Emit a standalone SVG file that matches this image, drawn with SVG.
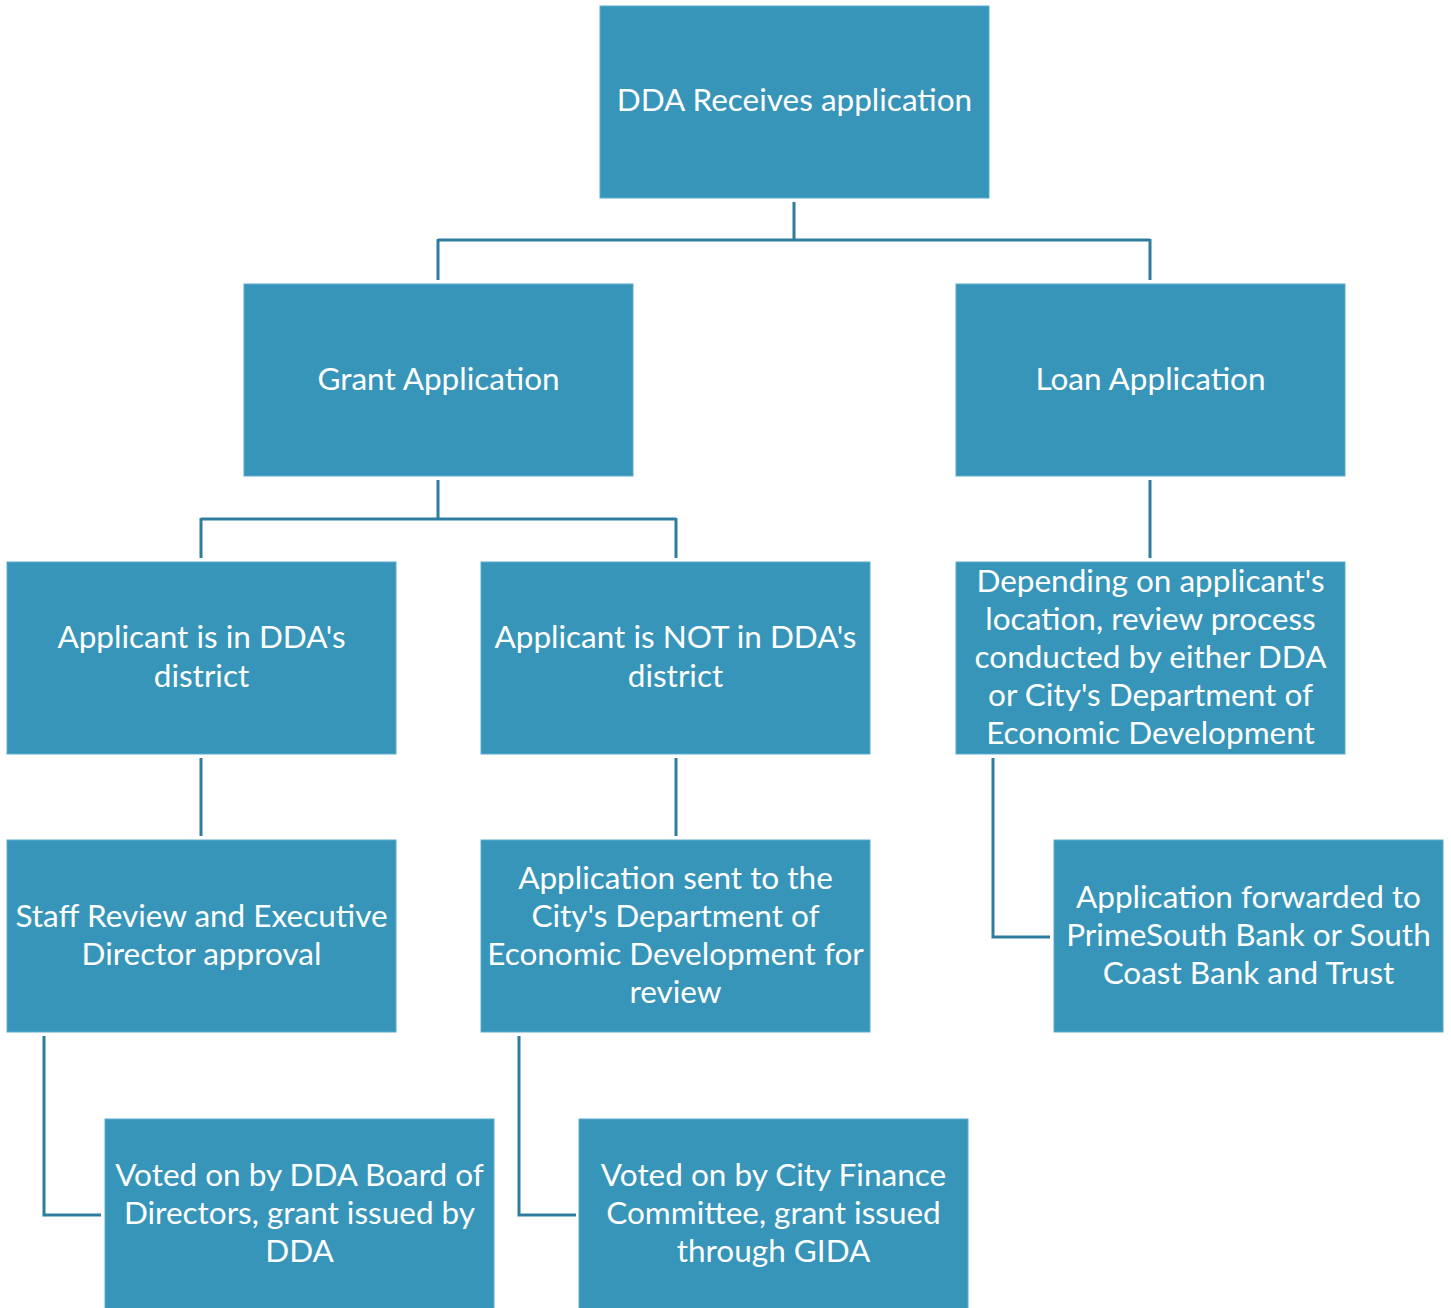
<svg xmlns="http://www.w3.org/2000/svg" width="1451" height="1308" viewBox="0 0 1451 1308">
<style>
.box{fill:#3795ba;stroke:#5aaed0;stroke-width:1}
.t{font-family:Lato,"Open Sans",sans-serif;font-size:31.5px;fill:#ffffff;text-anchor:middle}
.c{fill:none;stroke:#2e7d9e;stroke-width:3}
</style>
<rect width="1451" height="1308" fill="#ffffff"/>
<g id="connectors">
<path class="c" d="M794,202V240M438,240H1150M438,239V280M1150,239V280"/>
<path class="c" d="M438,480V519M201,519H676M201,518V558M676,518V558"/>
<path class="c" d="M1150,480V558"/>
<path class="c" d="M201,758V836"/>
<path class="c" d="M676,758V836"/>
<path class="c" d="M993,758V937H1050"/>
<path class="c" d="M44,1036V1215H101"/>
<path class="c" d="M519,1036V1215H576"/>
</g>
<g id="n1"><rect class="box" x="600" y="6" width="389" height="192"/><text class="t" x="794.5" y="111">DDA Receives application</text></g>
<g id="n2"><rect class="box" x="244" y="284" width="389" height="192"/><text class="t" x="438.5" y="390">Grant Application</text></g>
<g id="n3"><rect class="box" x="956" y="284" width="389" height="192"/><text class="t" x="1150.5" y="390">Loan Application</text></g>
<g id="n4"><rect class="box" x="7" y="562" width="389" height="192"/><text class="t" x="201.5" y="648">Applicant is in DDA's</text><text class="t" x="201.5" y="687">district</text></g>
<g id="n5"><rect class="box" x="481" y="562" width="389" height="192"/><text class="t" x="675.5" y="648">Applicant is NOT in DDA's</text><text class="t" x="675.5" y="687">district</text></g>
<g id="n6"><rect class="box" x="956" y="562" width="389" height="192"/><text class="t" x="1150.5" y="592">Depending on applicant's</text><text class="t" x="1150.5" y="630">location, review process</text><text class="t" x="1150.5" y="668">conducted by either DDA</text><text class="t" x="1150.5" y="706">or City's Department of</text><text class="t" x="1150.5" y="744">Economic Development</text></g>
<g id="n7"><rect class="box" x="7" y="840" width="389" height="192"/><text class="t" x="201.5" y="927">Staff Review and Executive</text><text class="t" x="201.5" y="965">Director approval</text></g>
<g id="n8"><rect class="box" x="481" y="840" width="389" height="192"/><text class="t" x="675.5" y="889">Application sent to the</text><text class="t" x="675.5" y="927">City's Department of</text><text class="t" x="675.5" y="965">Economic Development for</text><text class="t" x="675.5" y="1003">review</text></g>
<g id="n9"><rect class="box" x="1054" y="840" width="389" height="192"/><text class="t" x="1248.5" y="908">Application forwarded to</text><text class="t" x="1248.5" y="946">PrimeSouth Bank or South</text><text class="t" x="1248.5" y="984">Coast Bank and Trust</text></g>
<g id="n10"><rect class="box" x="105" y="1119" width="389" height="192"/><text class="t" x="299.5" y="1186">Voted on by DDA Board of</text><text class="t" x="299.5" y="1224">Directors, grant issued by</text><text class="t" x="299.5" y="1262">DDA</text></g>
<g id="n11"><rect class="box" x="579" y="1119" width="389" height="192"/><text class="t" x="773.5" y="1186">Voted on by City Finance</text><text class="t" x="773.5" y="1224">Committee, grant issued</text><text class="t" x="773.5" y="1262">through GIDA</text></g>
</svg>
